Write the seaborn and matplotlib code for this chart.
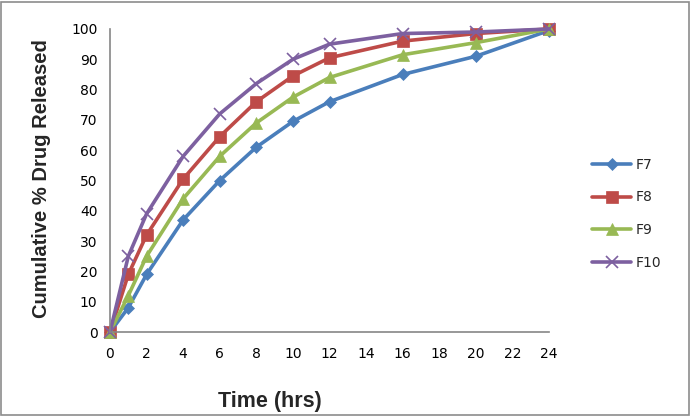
import matplotlib
matplotlib.use("Agg")
import matplotlib.pyplot as plt
import seaborn as sns
import pandas as pd
from matplotlib.patches import Rectangle

time_hrs = [0, 1, 2, 4, 6, 8, 10, 12, 16, 20, 24]
f7 = [0, 8, 19, 37, 50, 61, 69.5, 76, 85, 91, 99.5]
f8 = [0, 19, 32, 50.5, 64.5, 76, 84.5, 90.5, 96, 98.5, 100]
f9 = [0, 12, 25, 44, 58, 69, 77.5, 84, 91.5, 95.5, 100]
f10 = [0, 25, 39, 58, 72, 82, 90, 95, 98.5, 99, 100]
series_names = ["F7", "F8", "F9", "F10"]
x_ticks = list(range(0, 25, 2))
y_ticks = list(range(0, 101, 10))

rows = []
for name, vals in zip(series_names, [f7, f8, f9, f10]):
    for t, v in zip(time_hrs, vals):
        rows.append({"Time": t, "Release": v, "Formulation": name})
df = pd.DataFrame(rows)

sns.set_style("white")
plt.rcParams["font.family"] = ["DejaVu Sans"]

fig = plt.figure(figsize=(6.92, 4.16), dpi=100)
ax = fig.add_axes([110/692, 1-332/416, (549-110)/692, (332-29)/416])

colors = ["#4A7EBB", "#BE4B48", "#98B954", "#7D60A0"]
markers = ["D", "s", "^", "x"]
msizes = [6, 9, 8, 9]

for name, c, m, ms in zip(series_names, colors, markers, msizes):
    sub = df[df["Formulation"] == name]
    sns.lineplot(data=sub, x="Time", y="Release", ax=ax, color=c, lw=2.6,
                 marker=m, markersize=ms, markeredgecolor=c,
                 markeredgewidth=1.2 if m == "x" else 0.5, label=name,
                 clip_on=False)

ax.set_xlim(0, 24)
ax.set_ylim(0, 100)
ax.set_xticks(x_ticks)
ax.set_yticks(y_ticks)
ax.tick_params(axis="both", length=0, labelsize=10, colors="black")
ax.tick_params(axis="x", pad=11)
ax.tick_params(axis="y", pad=9)
for s in ["top", "right"]:
    ax.spines[s].set_visible(False)
for s in ["left", "bottom"]:
    ax.spines[s].set_color("#868686")
    ax.spines[s].set_linewidth(1.2)

ax.set_xlabel("Time (hrs)", fontsize=15.5, fontweight="bold",
              family=["Liberation Sans"])
ax.set_ylabel("Cumulative % Drug Released", fontsize=14.5, fontweight="bold",
              family=["Liberation Sans"])
ax.xaxis.set_label_coords((270-110)/(549-110), -(401-332)/(332-29))
ax.yaxis.set_label_coords(-(110-42)/(549-110), (332-179)/(332-29))
ax.xaxis.label.set_va("center")
ax.yaxis.label.set_va("center")

leg = ax.legend(loc="center left", bbox_to_anchor=(1.07, 0.39), frameon=False,
                fontsize=10, handlelength=2.8, labelspacing=1.35, handletextpad=0.3)

fig.patches.append(Rectangle((0.002, 0.003), 0.993, 0.993, transform=fig.transFigure,
                             fill=False, edgecolor="#8C8C8C", lw=1.2))

fig.savefig("out.png", dpi=100)
